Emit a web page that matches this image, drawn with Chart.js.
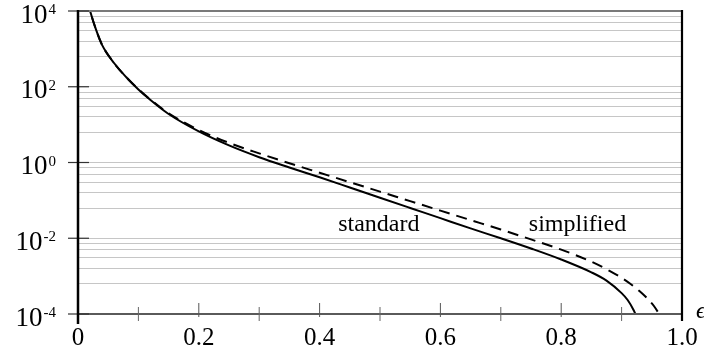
<!DOCTYPE html>
<html>
<head>
<meta charset="utf-8">
<script src="https://cdn.jsdelivr.net/npm/chart.js@4.4.1/dist/chart.umd.min.js"></script>
<style>
  html, body { margin: 0; padding: 0; background: #fff; }
  #wrap { width: 704px; height: 354px; }
</style>
</head>
<body>
<div id="wrap"><canvas id="chart" width="704" height="354"></canvas></div>
<script>
// values
const standardX = [0.015, 0.02, 0.03, 0.04, 0.06, 0.08, 0.10, 0.12, 0.15, 0.20, 0.25, 0.30, 0.35, 0.40, 0.45, 0.50, 0.55, 0.60, 0.65, 0.70, 0.75, 0.80, 0.85, 0.875, 0.90, 0.91, 0.92, 0.925];
const standardY = [2.0e4, 1.0e4, 3.16e3, 1.26e3, 417, 178, 85, 44.7, 19.1, 6.61, 2.82, 1.38, 0.741, 0.407, 0.219, 0.1175, 0.0631, 0.0339, 0.0182, 0.0100, 0.00537, 0.00275, 0.00126, 7.6e-4, 3.55e-4, 2.34e-4, 1.26e-4, 8.3e-5];

const simplifiedX = [0.015, 0.02, 0.03, 0.04, 0.06, 0.08, 0.10, 0.12, 0.15, 0.20, 0.25, 0.30, 0.35, 0.40, 0.45, 0.50, 0.55, 0.60, 0.65, 0.70, 0.75, 0.80, 0.85, 0.88, 0.91, 0.93, 0.945, 0.955, 0.962, 0.966];
const simplifiedY = [2.0e4, 1.0e4, 3.16e3, 1.26e3, 417, 178, 86, 46, 20, 7.2, 3.3, 1.74, 0.955, 0.537, 0.302, 0.17, 0.0955, 0.0537, 0.0302, 0.017, 0.00933, 0.00501, 0.0024, 0.00138, 7.08e-4, 3.98e-4, 2.34e-4, 1.51e-4, 1.0e-4, 7.6e-5];

const xTickValues = [0, 0.2, 0.4, 0.6, 0.8, 1.0];
const xTickLabels = ["0", "0.2", "0.4", "0.6", "0.8", "1.0"];
const xMinorTicks = [0.1, 0.3, 0.5, 0.7, 0.9];

const yMajorValues = [1e-4, 1e-2, 1, 1e2, 1e4];
const yExpLabels = ["-4", "-2", "0", "2", "4"];
// minor grid lines inside each two-decade step
const yMinorFactors = [6.25, 16, 30.25, 49, 72.25];

const curveLabels = ["standard", "simplified"];
const curveLabelX = [0.498, 0.827];
const curveLabelY = [0.0156, 0.0156];

const serif = '"Liberation Serif", "DejaVu Serif", serif';

function toPoints(xs, ys) {
  return xs.map((x, i) => ({ x, y: ys[i] }));
}

const yGridValues = [];
yMajorValues.forEach((v, i) => {
  yGridValues.push(v);
  if (i < yMajorValues.length - 1) {
    yMinorFactors.forEach((f) => yGridValues.push(v * f));
  }
});

function line(ctx, x1, y1, x2, y2, color, width) {
  ctx.beginPath();
  ctx.strokeStyle = color;
  ctx.lineWidth = width;
  ctx.moveTo(x1, y1);
  ctx.lineTo(x2, y2);
  ctx.stroke();
}

const framePlugin = {
  id: "frame",
  afterDraw(chart) {
    const { ctx, chartArea: a } = chart;
    const x = chart.scales.x;
    const y = chart.scales.y;
    ctx.save();

    line(ctx, a.left, a.top, a.right, a.top, "#7a7a7a", 2);
    line(ctx, a.left, a.bottom, a.right, a.bottom, "#5a5a5a", 2);

    yMajorValues.forEach((v) => {
      const py = y.getPixelForValue(v);
      line(ctx, a.left - 10, py, a.left + 11, py, "#333", 1.2);
    });

    xTickValues.forEach((v) => {
      const px = x.getPixelForValue(v);
      line(ctx, px, a.bottom - 11, px, a.bottom + 3, "#555", 1);
    });
    xMinorTicks.forEach((v) => {
      const px = x.getPixelForValue(v);
      line(ctx, px, a.bottom - 7, px, a.bottom + 7, "#666", 1);
    });

    line(ctx, a.left, a.top - 1, a.left, a.bottom + 10, "#000", 2.5);
    line(ctx, a.right, a.top - 1, a.right, a.bottom + 7, "#000", 2.2);

    ctx.fillStyle = "#000";
    ctx.textBaseline = "alphabetic";

    // y labels 10^k
    yMajorValues.forEach((v, i) => {
      const py = y.getPixelForValue(v);
      ctx.textAlign = "right";
      ctx.font = "15px " + serif;
      ctx.fillText(yExpLabels[i], 56, py + 3);
      const w = ctx.measureText(yExpLabels[i]).width;
      ctx.font = "27px " + serif;
      ctx.fillText("10", 56 - w - 1, py + 11.5);
    });

    // x labels
    ctx.textAlign = "center";
    ctx.font = "25px " + serif;
    xTickValues.forEach((v, i) => {
      ctx.fillText(xTickLabels[i], x.getPixelForValue(v), a.bottom + 31);
    });

    // axis symbol
    ctx.textAlign = "left";
    ctx.font = "italic 24px " + serif;
    ctx.fillText("\u03f5", a.right + 14, a.bottom + 4);

    // curve names
    ctx.textAlign = "center";
    ctx.font = "24px " + serif;
    curveLabels.forEach((t, i) => {
      ctx.fillText(t, x.getPixelForValue(curveLabelX[i]), y.getPixelForValue(curveLabelY[i]));
    });

    ctx.restore();
  }
};

new Chart(document.getElementById("chart"), {
  type: "line",
  data: {
    datasets: [
      {
        label: "standard",
        data: toPoints(standardX, standardY),
        borderColor: "#000",
        borderWidth: 2,
        pointRadius: 0,
        cubicInterpolationMode: "monotone",
        fill: false
      },
      {
        label: "simplified",
        data: toPoints(simplifiedX, simplifiedY),
        borderColor: "#000",
        borderWidth: 2,
        borderDash: [11, 7],
        pointRadius: 0,
        cubicInterpolationMode: "monotone",
        fill: false
      }
    ]
  },
  options: {
    responsive: false,
    animation: false,
    layout: { padding: { top: 11, right: 22, left: 0, bottom: 0 } },
    plugins: {
      legend: { display: false },
      tooltip: { enabled: false }
    },
    scales: {
      x: {
        type: "linear",
        min: 0,
        max: 1,
        grid: { display: false },
        border: { display: false },
        ticks: { display: false },
        afterFit(scale) {
          scale.height = 40;
        }
      },
      y: {
        type: "logarithmic",
        min: 1e-4,
        max: 1e4,
        border: { display: false },
        grid: {
          color: "#c6c6c6",
          lineWidth: 1,
          drawTicks: false
        },
        ticks: { display: false },
        afterBuildTicks(scale) {
          scale.ticks = yGridValues.map((v) => ({ value: v }));
        },
        afterFit(scale) {
          scale.width = 78;
        }
      }
    }
  },
  plugins: [framePlugin]
});
</script>
</body>
</html>
